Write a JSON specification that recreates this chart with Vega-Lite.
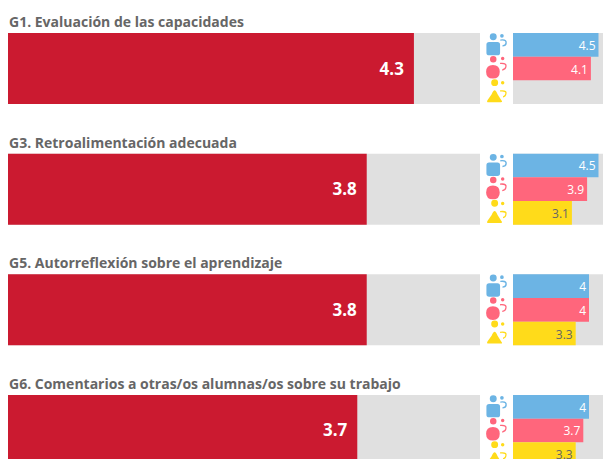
{
"$schema":"https://vega.github.io/schema/vega-lite/v6.json",
"background":"white",
"padding":{"left":8,"top":16,"right":0,"bottom":0},
"spacing":0,
"bounds":"flush",
"config":{"view":{"stroke":null},"concat":{"spacing":0}},
"datasets":{
"main":[
{"q":"G1","title":"G1. Evaluación de las capacidades","value":4.3,"max":5},
{"q":"G3","title":"G3. Retroalimentación adecuada","value":3.8,"max":5},
{"q":"G5","title":"G5. Autorreflexión sobre el aprendizaje","value":3.8,"max":5},
{"q":"G6","title":"G6. Comentarios a otras/os alumnas/os sobre su trabajo","value":3.7,"max":5}],
"sub":[
{"q":"G1","gender":"Niños","value":4.5},{"q":"G1","gender":"Niñas","value":4.1},
{"q":"G3","gender":"Niños","value":4.5},{"q":"G3","gender":"Niñas","value":3.9},{"q":"G3","gender":"Otro","value":3.1},
{"q":"G5","gender":"Niños","value":4},{"q":"G5","gender":"Niñas","value":4},{"q":"G5","gender":"Otro","value":3.3},
{"q":"G6","gender":"Niños","value":4},{"q":"G6","gender":"Niñas","value":3.7},{"q":"G6","gender":"Otro","value":3.3}],
"icons":[
{"q":"G1","gender":"Niños"},{"q":"G1","gender":"Niñas"},{"q":"G1","gender":"Otro"},
{"q":"G3","gender":"Niños"},{"q":"G3","gender":"Niñas"},{"q":"G3","gender":"Otro"},
{"q":"G5","gender":"Niños"},{"q":"G5","gender":"Niñas"},{"q":"G5","gender":"Otro"},
{"q":"G6","gender":"Niños"},{"q":"G6","gender":"Niñas"},{"q":"G6","gender":"Otro"}]
},
"hconcat":[
{"width":472,"height":433,"data":{"name":"main"},
"encoding":{"y":{"field":"q","type":"nominal","axis":null,"sort":null,"scale":{"domain":["G1","G3","G5","G6"],"paddingInner":0.4116,"paddingOuter":0}}},
"layer":[
{"mark":{"type":"bar","color":"#E0E0E0"},"encoding":{"x":{"field":"max","type":"quantitative","axis":null,"scale":{"domain":[0,5],"nice":false}}}},
{"mark":{"type":"bar","color":"#CB1A30"},"encoding":{"x":{"field":"value","type":"quantitative"}}},
{"mark":{"type":"text","align":"right","dx":-10,"dy":1,"fontSize":17,"fontWeight":"bold","font":"Open Sans","color":"white"},"encoding":{"x":{"field":"value","type":"quantitative"},"text":{"field":"value","type":"quantitative","format":".1f"}}},
{"mark":{"type":"text","align":"left","dx":1,"dy":-10,"fontSize":14,"fontWeight":"bold","font":"Open Sans","color":"#666666"},"encoding":{"x":{"datum":0,"type":"quantitative"},"y":{"field":"q","type":"nominal","bandPosition":0},"text":{"field":"title"}}}
]},
{"width":33,"height":433,"data":{"name":"icons"},
"mark":{"type":"point","filled":true,"opacity":1,"size":470,"strokeWidth":0},
"encoding":{
"y":{"field":"q","type":"nominal","axis":null,"sort":null,"scale":{"domain":["G1","G3","G5","G6"],"paddingInner":0.4116,"paddingOuter":0}},
"yOffset":{"field":"gender","type":"nominal","sort":null,"scale":{"domain":["Niños","Niñas","Otro"],"paddingInner":0,"paddingOuter":0}},
"color":{"field":"gender","type":"nominal","legend":null,"scale":{"domain":["Niños","Niñas","Otro"],"range":["#6CB4E4","#FF667C","#FFDB1A"]}},
"shape":{"field":"gender","type":"nominal","legend":null,"scale":{"domain":["Niños","Niñas","Otro"],"range":[
"M-.62 -.75Q-.62 -1.07 -.3 -1.07Q.02 -1.07 .02 -.75Q.02 -.43 -.3 -.43Q-.62 -.43 -.62 -.75ZM-.68 -.27H.08Q.33 -.27 .33 -.02V.72Q.33 .97 .08 .97H-.68Q-.93 .97 -.93 .72V-.02Q-.93 -.27 -.68 -.27ZM.33 -.83Q.33 -1 .5 -1Q.67 -1 .67 -.83Q.67 -.66 .5 -.66Q.33 -.66 .33 -.83ZM.35 -.5Q1 -.6 .95 -.15Q.92 .15 .55 .15L.55 .03Q.8 .02 .82 -.17Q.85 -.45 .35 -.38Z",
"M-.96 .3Q-.96 -.33 -.33 -.33Q.3 -.33 .3 .3Q.3 .93 -.33 .93Q-.96 .93 -.96 .3ZM-.6 -.85Q-.6 -1.15 -.3 -1.15Q0 -1.15 0 -.85Q0 -.55 -.3 -.55Q-.6 -.55 -.6 -.85ZM.41 -.93Q.41 -1.09 .57 -1.09Q.73 -1.09 .73 -.93Q.73 -.77 .57 -.77Q.41 -.77 .41 -.93ZM.33 -.53Q1 -.6 .93 -.2Q.9 .15 .53 .2L.53 .08Q.8 .03 .82 -.2Q.85 -.45 .33 -.41Z",
"M-.49 -.88Q-.49 -1.2 -.17 -1.2Q.15 -1.2 .15 -.88Q.15 -.56 -.17 -.56Q-.49 -.56 -.49 -.88ZM-.17 -.17Q-.05 -.17 .1 .2L.45 .75Q.6 .93 .4 .93H-.75Q-.95 .93 -.82 .72L-.45 .2Q-.3 -.17 -.17 -.17ZM.41 -.87Q.41 -1.03 .57 -1.03Q.73 -1.03 .73 -.87Q.73 -.71 .57 -.71Q.41 -.71 .41 -.87ZM.33 -.17Q1 -.25 .93 .1Q.9 .45 .6 .5L.6 .38Q.8 .33 .82 .1Q.85 -.1 .33 -.05Z"
]}}
}},
{"width":95,"height":433,
"encoding":{"y":{"field":"q","type":"nominal","axis":null,"sort":null,"scale":{"domain":["G1","G3","G5","G6"],"paddingInner":0.4116,"paddingOuter":0}}},
"layer":[
{"data":{"name":"main"},"mark":{"type":"bar","color":"#E0E0E0"},"encoding":{"x":{"field":"max","type":"quantitative","axis":null,"scale":{"domain":[0,5],"nice":false}}}},
{"data":{"name":"sub"},"mark":{"type":"bar"},"encoding":{"x":{"field":"value","type":"quantitative"},
"yOffset":{"field":"gender","type":"nominal","sort":null,"scale":{"domain":["Niños","Niñas","Otro"],"paddingInner":0,"paddingOuter":0}},
"fill":{"field":"gender","type":"nominal","legend":null,"scale":{"domain":["Niños","Niñas","Otro"],"range":["#6CB4E4","#FF667C","#FFDB1A"]}}}},
{"data":{"name":"sub"},"mark":{"type":"text","align":"right","dx":-3,"dy":1,"fontSize":12,"font":"Open Sans"},"encoding":{"x":{"field":"value","type":"quantitative"},
"yOffset":{"field":"gender","type":"nominal","sort":null,"scale":{"domain":["Niños","Niñas","Otro"],"paddingInner":0,"paddingOuter":0}},
"text":{"field":"value","type":"quantitative"},
"color":{"field":"gender","type":"nominal","legend":null,"scale":{"domain":["Niños","Niñas","Otro"],"range":["#FFFFFF","#FFFFFF","#666666"]}}}}
],
"resolve":{"scale":{"color":"independent"}}}
],
"resolve":{"scale":{"color":"independent","shape":"independent","y":"independent","x":"independent"}}
}
